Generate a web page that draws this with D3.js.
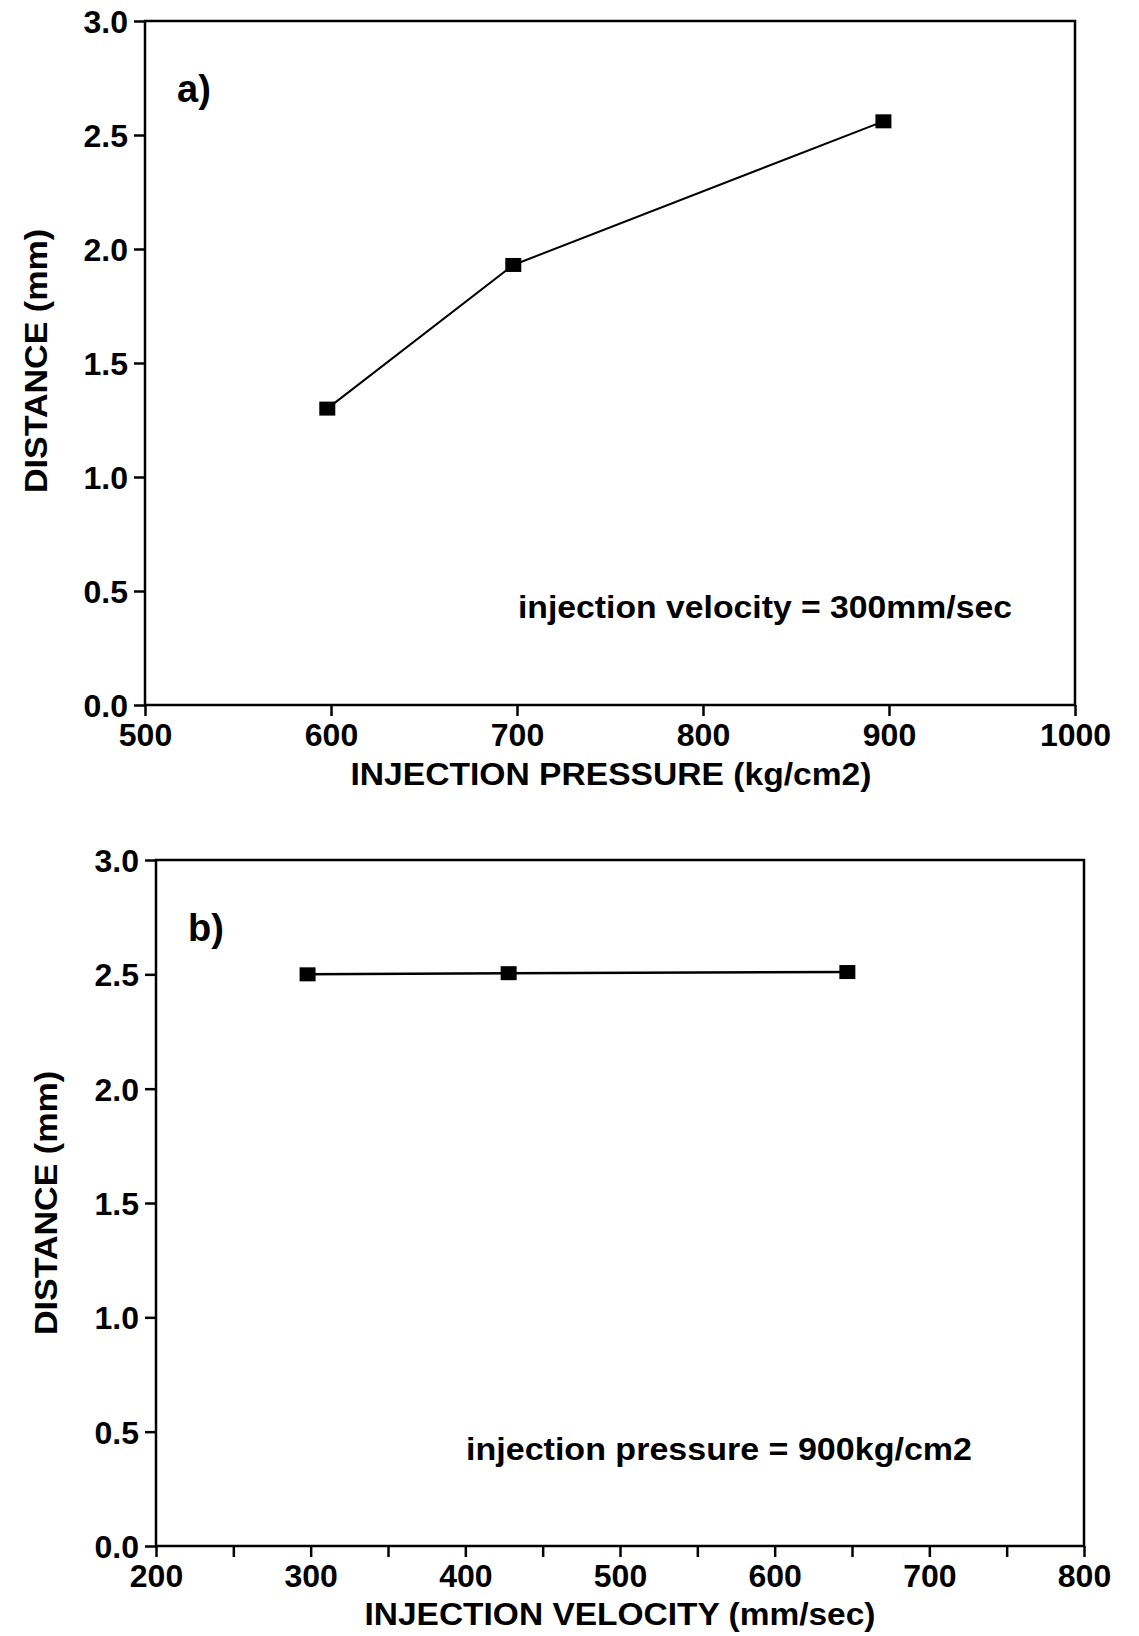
<!DOCTYPE html>
<html><head><meta charset="utf-8">
<script src="https://cdn.jsdelivr.net/npm/d3@7"></script>
<style>
body{margin:0;background:#fff;}
text{font-family:"Liberation Sans",Arial,Helvetica,sans-serif;font-weight:bold;fill:#000;}
</style></head>
<body>
<svg id="chart" width="1139" height="1636"></svg>
<script>
// ---- data ----
const pressureA = [598, 698, 897];          // kg/cm2
const distanceA = [1.30, 1.93, 2.56];       // mm
const velocityB = [298, 428, 647];          // mm/sec
const distanceB = [2.50, 2.505, 2.51];      // mm
const xTicksA = [500, 600, 700, 800, 900, 1000];
const xTicksB = [200, 300, 400, 500, 600, 700, 800];
const xMinorB = [250, 350, 450, 550, 650, 750];
const yTicks = [0.0, 0.5, 1.0, 1.5, 2.0, 2.5, 3.0];

const svg = d3.select("#chart");

function panel(opt){
  const g = svg.append("g");
  const x = d3.scaleLinear().domain(opt.xdom).range([opt.left, opt.right]);
  const y = d3.scaleLinear().domain([0,3]).range([opt.bottom, opt.top]);
  // frame
  g.append("rect").attr("x",opt.left).attr("y",opt.top)
    .attr("width",opt.right-opt.left).attr("height",opt.bottom-opt.top)
    .attr("fill","none").attr("stroke","#000").attr("stroke-width",2.5);
  // x axis
  const xa = g.append("g").attr("transform",`translate(0,${opt.bottom})`)
    .call(d3.axisBottom(x).tickValues(opt.xticks).tickSize(11).tickPadding(7).tickFormat(d3.format("d")));
  xa.select(".domain").remove();
  xa.selectAll("line").attr("stroke-width",2.5);
  xa.selectAll("text").attr("font-size",32).attr("font-family","Liberation Sans, Arial, sans-serif").attr("font-weight","bold");
  if (opt.xminor){
    const xm = g.append("g").attr("transform",`translate(0,${opt.bottom})`)
      .call(d3.axisBottom(x).tickValues(opt.xminor).tickSize(11).tickFormat(""));
    xm.select(".domain").remove();
    xm.selectAll("line").attr("stroke-width",2.5);
  }
  // y axis
  const ya = g.append("g").attr("transform",`translate(${opt.left},0)`)
    .call(d3.axisLeft(y).tickValues(yTicks).tickSize(11).tickPadding(6).tickFormat(d3.format(".1f")));
  ya.select(".domain").remove();
  ya.selectAll("line").attr("stroke-width",2.5);
  ya.selectAll("text").attr("font-size",32).attr("font-family","Liberation Sans, Arial, sans-serif").attr("font-weight","bold").attr("dy","0.36em");
  // line
  const pts = opt.xs.map((v,i)=>[v,opt.ys[i]]);
  g.append("path").datum(pts)
    .attr("d", d3.line().x(d=>x(d[0])).y(d=>y(d[1])))
    .attr("fill","none").attr("stroke","#000").attr("stroke-width",opt.lw);
  g.selectAll("rect.m").data(pts).enter().append("rect").attr("class","m")
    .attr("x",d=>x(d[0])-8).attr("y",d=>y(d[1])-7)
    .attr("width",16).attr("height",14).attr("fill","#000");
  // labels
  g.append("text").attr("x",opt.left+32).attr("y",opt.top+81).attr("font-size",38).text(opt.tag);
  g.append("text").attr("x",opt.annX).attr("y",opt.annY).attr("font-size",32)
    .attr("textLength",opt.annW).attr("lengthAdjust","spacingAndGlyphs").text(opt.ann);
  g.append("text").attr("x",opt.xtX).attr("y",opt.xtY).attr("font-size",32).attr("text-anchor","middle")
    .attr("textLength",opt.xtW).attr("lengthAdjust","spacingAndGlyphs").text(opt.xtitle);
  g.append("text").attr("transform",`translate(${opt.ytX},${opt.ytY}) rotate(-90)`)
    .attr("font-size",32).attr("text-anchor","middle")
    .attr("textLength",264).attr("lengthAdjust","spacingAndGlyphs").text("DISTANCE (mm)");
}

panel({xdom:[500,1000], left:145, right:1075, top:21, bottom:705,
  xticks:xTicksA, xs:pressureA, ys:distanceA, tag:"a)", lw:2,
  ann:"injection velocity = 300mm/sec", annX:518, annY:618, annW:494,
  xtitle:"INJECTION PRESSURE (kg/cm2)", xtX:611, xtY:785, xtW:521,
  ytX:47, ytY:361});

panel({xdom:[200,800], left:156, right:1084, top:860, bottom:1546,
  xticks:xTicksB, xminor:xMinorB, xs:velocityB, ys:distanceB, tag:"b)", lw:2.5,
  ann:"injection pressure = 900kg/cm2", annX:466, annY:1460, annW:506,
  xtitle:"INJECTION VELOCITY (mm/sec)", xtX:620, xtY:1625, xtW:511,
  ytX:57, ytY:1203});
</script>
</body></html>
